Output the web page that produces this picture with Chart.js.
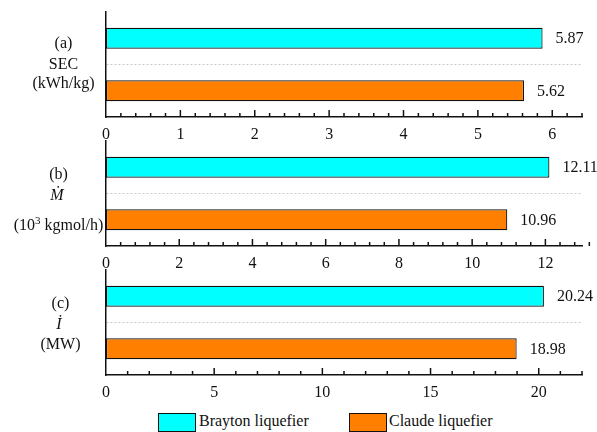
<!DOCTYPE html>
<html>
<head>
<meta charset="utf-8">
<script src="https://cdn.jsdelivr.net/npm/chart.js@4/dist/chart.umd.min.js"></script>
<style>
  body { margin: 0; background: #fff; }
  #wrap { position: relative; width: 597px; height: 432px; font-family: "Liberation Serif", "Times New Roman", serif; color: #111; }
  #wrap canvas { position: absolute; left: 0; }
  .lab { position: absolute; width: 120px; text-align: center; font-size: 16px; line-height: 20px; white-space: nowrap; }
  .lab sup { font-size: 11px; line-height: 0; }
  .box { position: absolute; width: 36px; height: 17px; border: 1px solid #111; }
  .leg { position: absolute; font-size: 16px; line-height: 20px; white-space: nowrap; }
</style>
</head>
<body>
<div id="wrap">
  <canvas id="c0" width="597" height="145" style="top:0px"></canvas>
  <canvas id="c1" width="597" height="145" style="top:129px"></canvas>
  <canvas id="c2" width="597" height="145" style="top:258px"></canvas>

  <div class="lab" style="left:3.5px; top:33px">(a)</div>
  <div class="lab" style="left:3.5px; top:54px">SEC</div>
  <div class="lab" style="left:3.5px; top:73px">(kWh/kg)</div>

  <div class="lab" style="left:-1.5px; top:164px">(b)</div>
  <div class="lab" style="left:-3px; top:185px"><i>Ṁ</i></div>
  <div class="lab" style="left:-1.5px; top:215px">(10<sup>3</sup> kgmol/h)</div>

  <div class="lab" style="left:0.5px; top:293px">(c)</div>
  <div class="lab" style="left:-1px; top:314px"><i>İ</i></div>
  <div class="lab" style="left:0.5px; top:334px">(MW)</div>

  <div class="box" style="left:158px; top:413px; background:#00ffff"></div>
  <div class="leg" style="left:199px; top:411px">Brayton liquefier</div>
  <div class="box" style="left:349px; top:413px; background:#ff8000"></div>
  <div class="leg" style="left:389px; top:411px">Claude liquefier</div>
</div>
<script>
const categories = ['Brayton liquefier', 'Claude liquefier'];
const secValues = [5.87, 5.62];
const flowValues = [12.11, 10.96];
const irrevValues = [20.24, 18.98];
const axisMax = [6.4, 13, 22];
const majorSteps = [1, 2, 5];
const minorSteps = [0.2, 0.4, 1];
const barColors = ['#00ffff', '#ff8000'];

// value labels to the right of each bar
const valueLabels = {
    id: 'valueLabels',
    afterDatasetsDraw(chart) {
        const ctx = chart.ctx;
        const ds = chart.data.datasets[0];
        ctx.save();
        ctx.font = '16px "Liberation Serif", serif';
        ctx.fillStyle = '#111';
        ctx.textBaseline = 'middle';
        chart.getDatasetMeta(0).data.forEach(function (bar, i) {
            ctx.fillText(ds.data[i].toFixed(2), bar.x + 13, bar.y + 1);
        });
        ctx.restore();
    }
};

// inward major / minor tick marks on the x axis
const innerTicks = {
    id: 'innerTicks',
    afterDraw(chart, args, opts) {
        const ctx = chart.ctx;
        const x = chart.scales.x;
        const y0 = chart.chartArea.bottom;
        ctx.save();
        ctx.strokeStyle = '#111';
        ctx.lineWidth = 1.5;
        const n = Math.round(x.max / opts.minor);
        for (let k = 1; k <= n; k++) {
            const v = k * opts.minor;
            const r = v / opts.major;
            const major = Math.abs(r - Math.round(r)) < 1e-6;
            const px = x.getPixelForValue(v);
            ctx.beginPath();
            ctx.moveTo(px, y0);
            ctx.lineTo(px, y0 - (major ? 7 : 4));
            ctx.stroke();
        }
        ctx.restore();
    }
};

function makePanel(id, values, i) {
    new Chart(document.getElementById(id), {
        type: 'bar',
        data: {
            labels: categories,
            datasets: [{
                data: values,
                backgroundColor: barColors,
                borderColor: '#111',
                borderWidth: 1.2,
                borderSkipped: false,
                barPercentage: 0.4,
                categoryPercentage: 1
            }]
        },
        options: {
            indexAxis: 'y',
            responsive: false,
            animation: false,
            devicePixelRatio: 1,
            layout: { padding: { top: 12, left: 106, right: 15, bottom: 0 } },
            plugins: {
                legend: { display: false },
                tooltip: { enabled: false },
                innerTicks: { major: majorSteps[i], minor: minorSteps[i] }
            },
            scales: {
                x: {
                    type: 'linear',
                    min: 0,
                    max: axisMax[i],
                    grid: { display: false, drawTicks: false },
                    border: { display: true, color: '#111', width: 1.5 },
                    ticks: {
                        stepSize: majorSteps[i],
                        includeBounds: false,
                        padding: 8,
                        color: '#111',
                        font: { family: '"Liberation Serif", serif', size: 16 }
                    },
                    afterFit: function (scale) { scale.height = 28; }
                },
                y: {
                    grid: {
                        drawTicks: false,
                        lineWidth: 1,
                        color: function (c) { return c.index === 1 ? '#c8c8c8' : 'rgba(0,0,0,0)'; }
                    },
                    border: { display: true, color: '#111', width: 1.5, dash: [2, 2] },
                    ticks: { display: false }
                }
            }
        },
        plugins: [valueLabels, innerTicks]
    });
}

makePanel('c0', secValues, 0);
makePanel('c1', flowValues, 1);
makePanel('c2', irrevValues, 2);
</script>
</body>
</html>
